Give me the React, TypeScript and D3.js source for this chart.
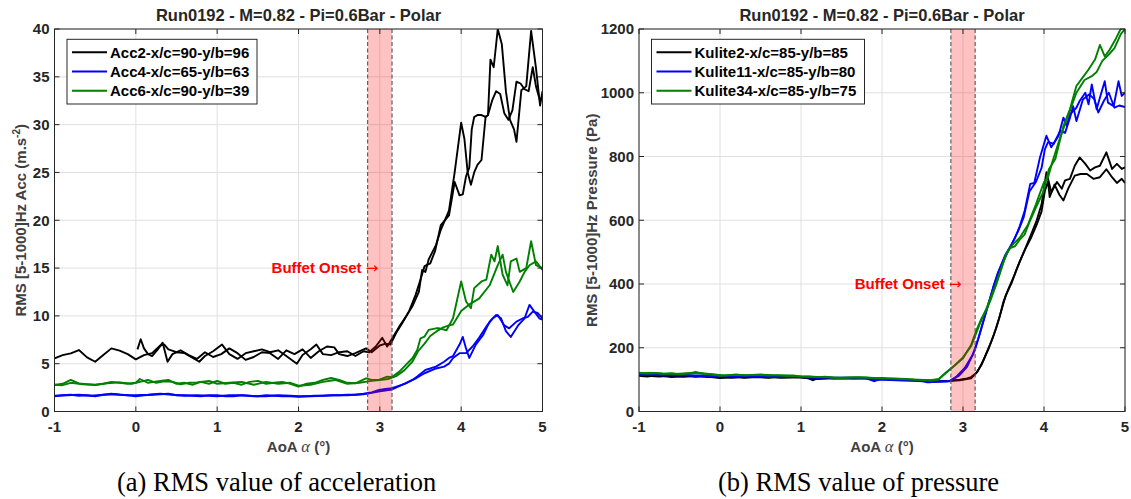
import React from "react";
import * as d3 from "d3";

// ---------------- DATA ----------------
const AOA_TICKS = [-1, 0, 1, 2, 3, 4, 5];
const ACC_TICKS = [0, 5, 10, 15, 20, 25, 30, 35, 40];
const PRES_TICKS = [0, 200, 400, 600, 800, 1000, 1200];
const BUFFET_RANGE = [2.85, 3.15];

const ACC_LEGEND = ["Acc2-x/c=90-y/b=96", "Acc4-x/c=65-y/b=63", "Acc6-x/c=90-y/b=39"];
const PRES_LEGEND = ["Kulite2-x/c=85-y/b=85", "Kulite11-x/c=85-y/b=80", "Kulite34-x/c=85-y/b=75"];

const acc2A: [number, number][] = [[-1,5.56],[-0.9,5.9],[-0.8,6.08],[-0.7,6.43],[-0.6,5.66],[-0.5,5.2],[-0.4,5.9],[-0.3,6.6],[-0.2,6.36],[-0.1,6.0],[0,5.45],[0.1,5.9],[0.2,6.1],[0.3,6.9],[0.35,7.0],[0.4,6.5],[0.5,6.2],[0.6,6.1],[0.7,5.6],[0.78,5.2],[0.85,5.8],[0.95,6.3],[1.06,7.0],[1.15,6.0],[1.25,5.5],[1.35,6.1],[1.45,6.3],[1.55,6.5],[1.65,6.2],[1.75,6.4],[1.85,5.8],[1.98,5.0],[2.05,5.9],[2.15,6.5],[2.22,7.0],[2.3,6.0],[2.4,5.9],[2.5,6.2],[2.6,6.3],[2.7,5.8],[2.8,6.3],[2.87,6.2],[2.95,6.8],[3.03,7.7],[3.09,6.8],[3.15,7.6],[3.24,8.9],[3.32,9.9],[3.4,11],[3.48,12.5],[3.52,14.8],[3.56,14.6],[3.6,15.9],[3.69,17.4],[3.75,19],[3.85,21],[3.92,25],[4.0,30.2],[4.04,28.5],[4.08,25],[4.12,23.7],[4.16,25],[4.2,25.8],[4.25,26.3],[4.3,30.8],[4.33,31],[4.36,36.8],[4.4,36],[4.45,40],[4.5,38.4],[4.55,33.5],[4.6,30.5],[4.65,29.5],[4.68,28.2],[4.74,33.6],[4.8,34],[4.86,39.8],[4.92,35.9],[4.97,32],[5.0,33.5]];
const acc2B: [number, number][] = [[0.02,6.5],[0.06,7.55],[0.1,6.6],[0.15,6.0],[0.2,5.8],[0.27,6.5],[0.33,7.2],[0.39,5.2],[0.45,6.0],[0.55,6.4],[0.65,5.9],[0.75,5.5],[0.85,6.2],[0.95,5.7],[1.05,6.0],[1.15,6.6],[1.25,6.1],[1.35,5.4],[1.45,5.7],[1.55,6.2],[1.65,6.1],[1.75,5.5],[1.85,6.4],[1.95,6.0],[2.05,6.5],[2.15,5.6],[2.25,6.3],[2.35,6.8],[2.44,6.7],[2.5,6.0],[2.6,5.8],[2.7,6.1],[2.83,6.6],[2.9,6.2],[3.0,6.9],[3.07,7.1],[3.13,7.0],[3.2,8.2],[3.28,9.3],[3.36,10.5],[3.44,12.2],[3.5,13.8],[3.55,15.2],[3.62,15.5],[3.68,16.8],[3.75,19.5],[3.85,20.5],[3.92,24],[3.98,22.6],[4.02,22.7],[4.06,24.6],[4.1,25.5],[4.13,29.5],[4.16,30.8],[4.2,31],[4.25,31],[4.3,30.8],[4.33,31],[4.38,32.5],[4.43,33.5],[4.48,33.2],[4.53,31.2],[4.58,30.5],[4.63,31.5],[4.68,34.5],[4.73,34.3],[4.78,33.7],[4.83,33.5],[4.88,36],[4.92,34],[4.97,32.5],[5.0,33]];
const acc4A: [number, number][] = [[-1,1.6],[-0.9,1.7],[-0.8,1.75],[-0.7,1.65],[-0.6,1.7],[-0.5,1.6],[-0.4,1.75],[-0.3,1.85],[-0.2,1.75],[-0.1,1.7],[0,1.6],[0.1,1.7],[0.2,1.75],[0.3,1.8],[0.4,1.85],[0.5,1.7],[0.6,1.7],[0.7,1.65],[0.8,1.6],[0.9,1.7],[1,1.7],[1.1,1.6],[1.2,1.6],[1.3,1.7],[1.4,1.65],[1.5,1.6],[1.6,1.7],[1.7,1.65],[1.8,1.6],[1.9,1.6],[2,1.55],[2.1,1.6],[2.2,1.65],[2.3,1.65],[2.4,1.7],[2.5,1.7],[2.6,1.75],[2.7,1.75],[2.8,1.85],[2.9,2.0],[2.99,2.25],[3.07,2.35],[3.15,2.43],[3.24,2.7],[3.32,2.95],[3.4,3.3],[3.46,3.65],[3.56,4.35],[3.62,4.5],[3.69,4.7],[3.79,5.2],[3.85,5.6],[3.9,5.8],[3.98,7.0],[4.02,7.8],[4.06,6.6],[4.1,5.6],[4.18,7.0],[4.27,8.0],[4.35,9.4],[4.43,10.1],[4.49,9.75],[4.55,8.4],[4.61,7.8],[4.7,9.0],[4.78,9.75],[4.84,11.15],[4.9,10.45],[4.96,9.75],[5,9.6]];
const acc4B: [number, number][] = [[-1,1.65],[-0.85,1.7],[-0.7,1.75],[-0.55,1.65],[-0.4,1.75],[-0.25,1.8],[-0.1,1.7],[0,1.7],[0.15,1.75],[0.3,1.85],[0.45,1.75],[0.6,1.65],[0.75,1.7],[0.9,1.65],[1,1.6],[1.15,1.7],[1.3,1.7],[1.45,1.6],[1.6,1.6],[1.75,1.7],[1.9,1.65],[2,1.6],[2.15,1.6],[2.3,1.65],[2.45,1.7],[2.6,1.7],[2.8,1.8],[2.9,1.95],[3.0,2.1],[3.15,2.3],[3.3,2.9],[3.45,3.5],[3.55,4.0],[3.69,4.5],[3.79,4.7],[3.85,5.0],[3.9,5.6],[3.98,6.1],[4.06,6.1],[4.14,6.8],[4.22,7.7],[4.31,8.9],[4.39,9.75],[4.45,10.1],[4.53,9.0],[4.59,8.7],[4.68,9.4],[4.76,9.75],[4.82,9.9],[4.88,10.45],[4.94,10.3],[5,9.75]];
const acc6A: [number, number][] = [[-1,2.77],[-0.9,2.9],[-0.8,3.3],[-0.7,2.94],[-0.6,2.85],[-0.5,2.77],[-0.4,2.9],[-0.3,3.1],[-0.2,3.0],[-0.1,2.9],[0,3.0],[0.05,3.4],[0.15,3.0],[0.3,3.2],[0.4,3.3],[0.5,2.9],[0.6,3.0],[0.7,2.8],[0.8,3.1],[0.9,2.9],[1.0,3.2],[1.1,2.9],[1.2,3.0],[1.3,2.8],[1.4,3.1],[1.5,3.2],[1.6,2.9],[1.7,3.0],[1.8,3.1],[1.9,2.9],[2.0,2.6],[2.1,2.9],[2.2,3.0],[2.3,3.3],[2.4,3.5],[2.5,3.3],[2.6,3.0],[2.7,2.95],[2.83,3.47],[2.9,3.3],[2.99,3.3],[3.09,3.65],[3.15,3.6],[3.24,4.17],[3.32,4.87],[3.4,5.57],[3.46,6.44],[3.5,7.66],[3.55,7.84],[3.6,8.53],[3.69,8.7],[3.73,8.7],[3.82,8.5],[3.9,9.75],[4.0,13.6],[4.06,11.5],[4.12,10.8],[4.16,12.9],[4.25,13.6],[4.31,13.8],[4.37,16.4],[4.41,15.7],[4.45,17.3],[4.51,14.3],[4.57,13.2],[4.61,15.7],[4.68,16.0],[4.72,14.6],[4.8,15],[4.86,17.8],[4.92,15.3],[5,15]];
const acc6B: [number, number][] = [[-1,2.8],[-0.9,2.75],[-0.8,3.0],[-0.65,2.85],[-0.5,2.8],[-0.35,2.95],[-0.2,3.05],[-0.05,2.9],[0.05,3.1],[0.15,3.3],[0.25,3.0],[0.35,3.15],[0.45,3.1],[0.55,2.85],[0.65,3.0],[0.75,3.05],[0.9,3.2],[1.0,2.9],[1.15,3.0],[1.3,3.1],[1.45,2.8],[1.6,3.1],[1.75,2.9],[1.9,3.0],[2.0,2.7],[2.15,2.8],[2.3,3.1],[2.45,3.3],[2.6,2.9],[2.75,3.0],[2.9,3.2],[3.0,3.3],[3.1,3.4],[3.2,3.7],[3.3,4.3],[3.4,5.2],[3.47,6.3],[3.55,7.1],[3.62,7.9],[3.7,8.4],[3.78,8.8],[3.85,9.0],[3.9,9.1],[4.0,10.5],[4.1,11.2],[4.22,11.8],[4.35,13.2],[4.45,15.3],[4.51,16.4],[4.55,14.6],[4.64,12.5],[4.72,13.6],[4.78,14.6],[4.84,15.3],[4.92,15.7],[5,14.8]];

const kul2A: [number, number][] = [[-1,112],[-0.9,110],[-0.8,113],[-0.7,111],[-0.6,108],[-0.5,110],[-0.4,112],[-0.3,109],[-0.2,111],[-0.1,108],[0,105],[0.1,107],[0.2,109],[0.3,106],[0.4,108],[0.5,108],[0.6,106],[0.7,109],[0.8,107],[0.9,108],[1.0,108],[1.1,103],[1.15,98],[1.2,104],[1.3,105],[1.4,103],[1.5,103],[1.6,104],[1.7,105],[1.8,104],[1.9,102],[2.0,103],[2.1,101],[2.2,102],[2.3,100],[2.4,99],[2.5,98],[2.6,97],[2.7,96],[2.8,95],[2.96,100],[3.05,104],[3.1,108],[3.16,120],[3.23,147],[3.29,183],[3.35,220],[3.41,262],[3.47,314],[3.53,366],[3.6,403],[3.66,445],[3.72,482],[3.78,518],[3.84,555],[3.91,600],[3.97,650],[4.03,751],[4.09,688],[4.16,720],[4.22,699],[4.26,725],[4.32,730],[4.38,771],[4.44,797],[4.51,777],[4.57,756],[4.63,766],[4.69,771],[4.77,813],[4.84,761],[4.9,777],[4.96,761],[5.0,766]];
const kul2B: [number, number][] = [[-1,114],[-0.9,112],[-0.75,110],[-0.6,112],[-0.45,109],[-0.3,111],[-0.15,108],[0,107],[0.15,106],[0.3,108],[0.45,107],[0.6,108],[0.75,106],[0.9,107],[1.05,106],[1.2,102],[1.35,104],[1.5,104],[1.65,103],[1.8,105],[1.95,102],[2.1,102],[2.25,100],[2.4,98],[2.55,97],[2.7,95],[2.85,96],[2.96,98],[3.1,104],[3.18,125],[3.25,160],[3.32,200],[3.38,240],[3.45,295],[3.5,345],[3.57,390],[3.63,425],[3.7,470],[3.77,510],[3.84,545],[3.91,586],[3.97,628],[4.01,691],[4.05,722],[4.07,673],[4.13,712],[4.19,680],[4.24,662],[4.3,700],[4.38,740],[4.45,745],[4.53,745],[4.61,730],[4.69,735],[4.77,760],[4.84,735],[4.9,717],[4.96,730],[5.0,717]];
const kul11A: [number, number][] = [[-1,115],[-0.9,114],[-0.8,116],[-0.7,113],[-0.6,114],[-0.5,113],[-0.4,115],[-0.3,112],[-0.2,113],[-0.1,111],[0,110],[0.1,111],[0.2,110],[0.3,112],[0.4,110],[0.5,110],[0.6,109],[0.7,110],[0.8,108],[0.9,109],[1.0,108],[1.1,107],[1.2,106],[1.3,107],[1.4,105],[1.5,105],[1.6,106],[1.7,105],[1.8,105],[1.85,100],[1.9,95],[1.95,99],[2.0,100],[2.1,99],[2.2,98],[2.3,97],[2.4,96],[2.5,95],[2.55,92],[2.6,92],[2.7,93],[2.84,96],[2.92,110],[3.02,136],[3.12,178],[3.19,230],[3.25,283],[3.31,335],[3.37,387],[3.43,435],[3.51,482],[3.58,513],[3.64,544],[3.7,581],[3.76,628],[3.83,714],[3.88,717],[3.95,797],[4.03,865],[4.09,829],[4.18,865],[4.24,922],[4.28,896],[4.32,932],[4.4,953],[4.44,974],[4.51,1000],[4.55,964],[4.59,1026],[4.65,948],[4.69,984],[4.75,1036],[4.79,969],[4.86,958],[4.92,1036],[4.96,990],[5.0,1000]];
const kul11B: [number, number][] = [[-1,117],[-0.85,115],[-0.7,114],[-0.55,115],[-0.4,113],[-0.25,112],[-0.1,112],[0.05,111],[0.2,111],[0.35,110],[0.5,111],[0.65,109],[0.8,109],[0.95,108],[1.1,107],[1.25,107],[1.4,106],[1.55,106],[1.7,104],[1.85,103],[2.0,101],[2.15,99],[2.3,98],[2.45,97],[2.6,94],[2.75,94],[2.84,95],[2.95,112],[3.05,140],[3.15,195],[3.22,255],[3.3,325],[3.38,395],[3.45,445],[3.52,490],[3.6,525],[3.68,565],[3.75,610],[3.82,690],[3.9,720],[3.97,764],[4.01,822],[4.05,845],[4.12,840],[4.2,880],[4.26,874],[4.32,921],[4.36,958],[4.4,911],[4.48,979],[4.56,995],[4.62,980],[4.67,938],[4.74,975],[4.8,1000],[4.87,953],[4.93,960],[5.0,955]];
const kul34A: [number, number][] = [[-1,122],[-0.9,119],[-0.8,121],[-0.7,118],[-0.6,120],[-0.5,117],[-0.4,119],[-0.3,124],[-0.2,118],[-0.1,116],[0,112],[0.1,114],[0.2,116],[0.3,113],[0.4,115],[0.5,115],[0.6,113],[0.7,114],[0.8,112],[0.9,113],[1.0,110],[1.1,109],[1.2,108],[1.3,109],[1.4,106],[1.5,105],[1.6,107],[1.7,108],[1.8,107],[1.9,104],[2.0,105],[2.1,104],[2.2,103],[2.3,102],[2.4,100],[2.5,99],[2.6,97],[2.7,100],[2.75,112],[2.86,136],[3.0,167],[3.1,209],[3.16,251],[3.23,293],[3.29,319],[3.35,356],[3.41,398],[3.47,445],[3.53,492],[3.58,513],[3.64,518],[3.7,539],[3.76,555],[3.83,600],[3.9,640],[3.99,688],[4.06,760],[4.14,792],[4.24,896],[4.32,948],[4.4,1021],[4.49,1052],[4.55,1073],[4.63,1104],[4.69,1150],[4.75,1114],[4.81,1135],[4.88,1166],[4.94,1197],[5.0,1215]];
const kul34B: [number, number][] = [[-1,120],[-0.85,121],[-0.7,119],[-0.55,118],[-0.4,120],[-0.25,121],[-0.1,117],[0.05,113],[0.2,115],[0.35,114],[0.5,116],[0.65,114],[0.8,113],[0.95,111],[1.1,110],[1.25,108],[1.4,107],[1.55,106],[1.7,107],[1.85,106],[2.0,104],[2.15,103],[2.3,101],[2.45,100],[2.6,98],[2.7,102],[2.8,125],[2.9,145],[3.0,170],[3.1,205],[3.2,270],[3.3,330],[3.4,395],[3.5,470],[3.56,505],[3.62,525],[3.7,545],[3.8,585],[3.9,650],[4.0,720],[4.05,735],[4.1,780],[4.2,860],[4.3,930],[4.4,1000],[4.5,1040],[4.59,1052],[4.65,1065],[4.72,1100],[4.8,1120],[4.87,1140],[4.95,1185],[5.0,1200]];

// ---------------- STYLE ----------------
const SANS = "'Liberation Sans', Arial, Helvetica, sans-serif";
const SERIF = "'Liberation Serif', 'Times New Roman', serif";
const AX = "#262626";
const GRID = "#e0e0e0";
const COLORS = ["#000000", "#0000ff", "#008000"];
const TOP = 29;
const BOTTOM = 411.5;

type Pts = [number, number][];

interface PanelProps {
  id: string;
  x0: number;
  x1: number;
  yMax: number;
  yTicks: number[];
  series: Pts[][];
  legend: string[];
  legendW: number;
  yLabel: React.ReactNode;
  buffetY: number;
  caption: string;
  captionX: number;
  yLabelX: number;
}

function Panel(p: PanelProps) {
  const x = d3.scaleLinear().domain([-1, 5]).range([p.x0, p.x1]);
  const y = d3.scaleLinear().domain([0, p.yMax]).range([BOTTOM, TOP]);
  const line = d3
    .line<[number, number]>()
    .x((d) => x(d[0]))
    .y((d) => y(d[1]));
  const cx = (p.x0 + p.x1) / 2;
  const cy = (TOP + BOTTOM) / 2;
  const tick = 5;
  const lgX = p.x0 + 12.5;
  const lgY = 39.3;
  return (
    <g>
      <defs>
        <clipPath id={p.id}>
          <rect x={p.x0} y={TOP} width={p.x1 - p.x0} height={BOTTOM - TOP} />
        </clipPath>
      </defs>
      <rect x={p.x0} y={TOP} width={p.x1 - p.x0} height={BOTTOM - TOP} fill="#fff" />
      {/* grid */}
      {AOA_TICKS.map((t) => (
        <line key={"gx" + t} x1={x(t)} x2={x(t)} y1={TOP} y2={BOTTOM} stroke={GRID} strokeWidth={1} />
      ))}
      {p.yTicks.map((t) => (
        <line key={"gy" + t} x1={p.x0} x2={p.x1} y1={y(t)} y2={y(t)} stroke={GRID} strokeWidth={1} />
      ))}
      {/* lines */}
      <g clipPath={`url(#${p.id})`}>
        {p.series.map((passes, si) =>
          passes.map((pts, pi) => (
            <path
              key={si + "-" + pi}
              d={line(pts) || ""}
              fill="none"
              stroke={COLORS[si]}
              strokeWidth={1.9}
              strokeLinejoin="round"
            />
          ))
        )}
      </g>
      {/* buffet band */}
      <rect
        x={x(BUFFET_RANGE[0])}
        y={TOP}
        width={x(BUFFET_RANGE[1]) - x(BUFFET_RANGE[0])}
        height={BOTTOM - TOP}
        fill="#ff0000"
        fillOpacity={0.24}
      />
      {BUFFET_RANGE.map((b) => (
        <line key={"b" + b} x1={x(b)} x2={x(b)} y1={TOP} y2={BOTTOM} stroke="#555" strokeWidth={1.1} strokeDasharray="4,2.5" />
      ))}
      {/* frame */}
      <rect x={p.x0} y={TOP} width={p.x1 - p.x0} height={BOTTOM - TOP} fill="none" stroke={AX} strokeWidth={1} />
      {AOA_TICKS.map((t) => (
        <g key={"tx" + t}>
          <line x1={x(t)} x2={x(t)} y1={BOTTOM} y2={BOTTOM - tick} stroke={AX} />
          <line x1={x(t)} x2={x(t)} y1={TOP} y2={TOP + tick} stroke={AX} />
          <text x={x(t)} y={426.7} dy="0.35em" textAnchor="middle" fontFamily={SANS} fontWeight="bold" fontSize={15} fill={AX}>
            {t}
          </text>
        </g>
      ))}
      {p.yTicks.map((t) => (
        <g key={"ty" + t}>
          <line x1={p.x0} x2={p.x0 + tick} y1={y(t)} y2={y(t)} stroke={AX} />
          <line x1={p.x1} x2={p.x1 - tick} y1={y(t)} y2={y(t)} stroke={AX} />
          <text x={p.x0 - 5} y={y(t)} dy="0.35em" textAnchor="end" fontFamily={SANS} fontWeight="bold" fontSize={15} fill={AX}>
            {t}
          </text>
        </g>
      ))}
      {/* title */}
      <text x={cx} y={20.7} textAnchor="middle" fontFamily={SANS} fontWeight="bold" fontSize={16.5} fill={AX}>
        Run0192 - M=0.82 - Pi=0.6Bar - Polar
      </text>
      {/* x label */}
      <text x={cx} y={446.7} dy="0.35em" textAnchor="middle" fontFamily={SANS} fontWeight="bold" fontSize={15} fill="#404040">
        AoA <tspan fontFamily={SERIF} fontStyle="italic" fontWeight="normal" fontSize={16.5}>α</tspan> (°)
      </text>
      {/* y label */}
      <text
        transform={`translate(${p.yLabelX},${cy}) rotate(-90)`}
        dy="0.35em"
        textAnchor="middle"
        fontFamily={SANS}
        fontWeight="bold"
        fontSize={15}
        fill="#404040"
      >
        {p.yLabel}
      </text>
      {/* buffet onset annotation */}
      <text x={x(3) - 1.5} y={y(p.buffetY)} dy="0.35em" textAnchor="end" fontFamily={SANS} fontSize={15} fill="#ff0000">
        <tspan fontWeight="bold">Buffet Onset </tspan>
        <tspan fontFamily="'DejaVu Sans', sans-serif" fontWeight="normal" fontSize={15}>→</tspan>
      </text>
      {/* legend */}
      <rect x={lgX} y={lgY} width={p.legendW} height={64.7} fill="#fff" stroke={AX} strokeWidth={1} />
      {p.legend.map((name, i) => {
        const ly = lgY + 13 + i * 19.2;
        return (
          <g key={name}>
            <line x1={lgX + 5} x2={lgX + 40} y1={ly} y2={ly} stroke={COLORS[i]} strokeWidth={1.9} />
            <text x={lgX + 43} y={ly} dy="0.35em" fontFamily={SANS} fontWeight="bold" fontSize={15} fill="#000">
              {name}
            </text>
          </g>
        );
      })}
      {/* caption */}
      <text x={p.captionX} y={491} fontFamily={SERIF} fontSize={26.5} fill="#000">
        {p.caption}
      </text>
    </g>
  );
}

export default function App() {
  return (
    <svg
      width={1131}
      height={499}
      viewBox="0 0 1131 499"
      style={{ position: "absolute", left: 0, top: 0, background: "#fff" }}
    >
      <rect width={1131} height={499} fill="#fff" />
      <Panel
        id="clipA"
        x0={54.5}
        x1={542.5}
        yMax={40}
        yTicks={ACC_TICKS}
        series={[[acc2A, acc2B], [acc4A, acc4B], [acc6A, acc6B]]}
        legend={ACC_LEGEND}
        legendW={190}
        yLabel={
          <>
            RMS [5-1000]Hz Acc (m.s
            <tspan dy="-6" fontSize={10}>-2</tspan>
            <tspan dy="6">)</tspan>
          </>
        }
        yLabelX={21}
        buffetY={15}
        caption="(a) RMS value of acceleration"
        captionX={117}
      />
      <Panel
        id="clipB"
        x0={639}
        x1={1125}
        yMax={1200}
        yTicks={PRES_TICKS}
        series={[[kul2A, kul2B], [kul11A, kul11B], [kul34A, kul34B]]}
        legend={PRES_LEGEND}
        legendW={213}
        yLabel={<>RMS [5-1000]Hz Pressure (Pa)</>}
        yLabelX={591.5}
        buffetY={400}
        caption="(b) RMS value of pressure"
        captionX={718}
      />
    </svg>
  );
}
